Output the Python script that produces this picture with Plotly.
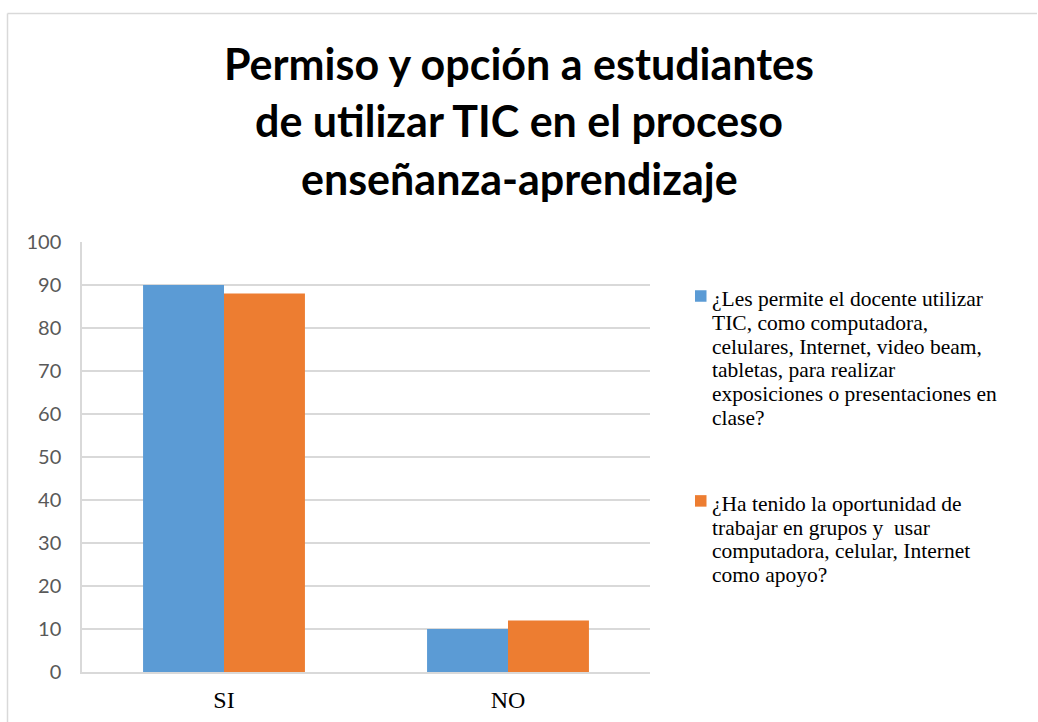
import plotly.graph_objects as go

categories = ["SI", "NO"]
series1_values = [90, 10]
series2_values = [88, 12]
series_colors = ["#5B9BD5", "#ED7D31"]
legend1_lines = ["¿Les permite el docente utilizar", "TIC, como computadora,",
                 "celulares, Internet, video beam,", "tabletas, para realizar",
                 "exposiciones o presentaciones en", "clase?"]
legend2_lines = ["¿Ha tenido la oportunidad de", "trabajar en grupos y  usar",
                 "computadora, celular, Internet", "como apoyo?"]
title_lines = ["Permiso y opción a estudiantes", "de utilizar TIC en el proceso",
               "enseñanza-aprendizaje"]
y_ticks = [0, 10, 20, 30, 40, 50, 60, 70, 80, 90, 100]

W, H = 1038, 722
L, R, T, B = 82, 388, 242, 50
pw, ph = W - L - R, H - T - B


def px_x(px):
    return (px - L) / pw


def px_y(py):
    return (H - B - py) / ph


SERIF = "Liberation Serif, Times New Roman, serif"
SANS = "Lato, Carlito, sans-serif"

fig = go.Figure()
fig.add_trace(go.Bar(x=categories, y=series1_values, name=" ".join(legend1_lines),
                     marker=dict(color=series_colors[0], line=dict(width=0))))
fig.add_trace(go.Bar(x=categories, y=series2_values, name=" ".join(legend2_lines),
                     marker=dict(color=series_colors[1], line=dict(width=0))))

annotations = []
# title lines (baselines ~78, 136, 193)
for line, base in zip(title_lines, [78, 136, 193]):
    annotations.append(dict(text="<b>" + line + "</b>", xref="paper", yref="paper",
                            x=px_x(519), y=px_y(base - 15), xanchor="center", yanchor="middle",
                            showarrow=False, font=dict(family=SANS, size=43, color="black")))

# legend: coloured squares + wrapped text lines
LEG_FONT = 21.5
LEG_STEP = 23.9
shapes = []
legend_items = [(legend1_lines, 365, series_colors[0]), (legend2_lines, 546, series_colors[1])]
for lines, center, color in legend_items:
    base0 = center - (len(lines) - 1) * LEG_STEP / 2
    for j, line in enumerate(lines):
        base = base0 + j * LEG_STEP
        annotations.append(dict(text=line, xref="paper", yref="paper",
                                x=px_x(710), y=px_y(base - 6.5), xanchor="left", yanchor="middle",
                                showarrow=False, font=dict(family=SERIF, size=LEG_FONT, color="black")))
    shapes.append(dict(type="rect", xref="paper", yref="paper",
                       x0=px_x(695), x1=px_x(706.5), y0=px_y(base0 - 15), y1=px_y(base0 - 3.5),
                       fillcolor=color, line=dict(width=0)))

# outer chart frame (top and left edges visible)
shapes += [
    dict(type="line", xref="paper", yref="paper", x0=px_x(7.5), x1=px_x(1037), y0=px_y(13.5), y1=px_y(13.5),
         line=dict(color="#d9d9d9", width=1.5)),
    dict(type="line", xref="paper", yref="paper", x0=px_x(7.5), x1=px_x(7.5), y0=px_y(13.5), y1=px_y(730),
         line=dict(color="#d9d9d9", width=1.5)),
]

fig.update_layout(
    width=W, height=H,
    margin=dict(l=L, r=R, t=T, b=B, autoexpand=False),
    paper_bgcolor="white", plot_bgcolor="white",
    barmode="group", bargap=0.43, bargroupgap=0,
    showlegend=False,
    xaxis=dict(showgrid=False, showline=True, linecolor="#d9d9d9", linewidth=1.5,
               ticks="outside", ticklen=5, tickcolor="rgba(0,0,0,0)",
               tickfont=dict(family=SERIF, size=24, color="black"),
               fixedrange=True),
    yaxis=dict(range=[0, 100], tickvals=y_ticks, showgrid=True, gridcolor="#d9d9d9", gridwidth=1.5,
               showline=True, linecolor="#d9d9d9", linewidth=1.5, zeroline=False,
               ticks="outside", ticklen=15, tickcolor="rgba(0,0,0,0)",
               tickfont=dict(family=SANS, size=20, color="#595959"), fixedrange=True),
    annotations=annotations,
    shapes=shapes,
)

fig.write_html("out.html", config={"displayModeBar": False},
               post_script="document.body.style.margin='0';")
